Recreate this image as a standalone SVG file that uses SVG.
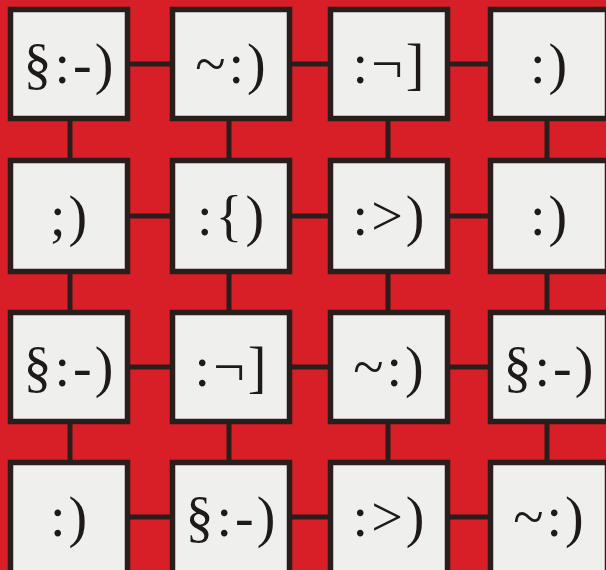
<svg xmlns="http://www.w3.org/2000/svg" width="606" height="570" viewBox="0 0 606 570">
<style>
.bg{fill:#d81f27}
.box{fill:#efefed;stroke:#2a1e1c;stroke-width:5.5}
.c{stroke:#2a1e1c;stroke-width:5;fill:none}
.t{font-family:"Liberation Serif","Times New Roman",serif;font-size:56px;fill:#1e1a18;text-anchor:middle;letter-spacing:3px}
</style>
<rect class="bg" x="0" y="0" width="606" height="570"/>
<g id="connectors">
<line class="c" x1="69" y1="64" x2="231" y2="64"/>
<line class="c" x1="231" y1="64" x2="389" y2="64"/>
<line class="c" x1="389" y1="64" x2="549" y2="64"/>
<line class="c" x1="69" y1="216" x2="231" y2="216"/>
<line class="c" x1="231" y1="216" x2="389" y2="216"/>
<line class="c" x1="389" y1="216" x2="549" y2="216"/>
<line class="c" x1="69" y1="367" x2="231" y2="367"/>
<line class="c" x1="231" y1="367" x2="389" y2="367"/>
<line class="c" x1="389" y1="367" x2="549" y2="367"/>
<line class="c" x1="69" y1="517" x2="231" y2="517"/>
<line class="c" x1="231" y1="517" x2="389" y2="517"/>
<line class="c" x1="389" y1="517" x2="549" y2="517"/>
<line class="c" x1="70" y1="64" x2="70" y2="216"/>
<line class="c" x1="70" y1="216" x2="70" y2="367"/>
<line class="c" x1="70" y1="367" x2="70" y2="517"/>
<line class="c" x1="229" y1="64" x2="229" y2="216"/>
<line class="c" x1="229" y1="216" x2="229" y2="367"/>
<line class="c" x1="229" y1="367" x2="229" y2="517"/>
<line class="c" x1="388" y1="64" x2="388" y2="216"/>
<line class="c" x1="388" y1="216" x2="388" y2="367"/>
<line class="c" x1="388" y1="367" x2="388" y2="517"/>
<line class="c" x1="547" y1="64" x2="547" y2="216"/>
<line class="c" x1="547" y1="216" x2="547" y2="367"/>
<line class="c" x1="547" y1="367" x2="547" y2="517"/>
</g>
<g id="n11"><rect class="box" x="10.5" y="9.5" width="117" height="109"/><text class="t" x="70" y="83">§:-)</text></g>
<g id="n12"><rect class="box" x="172.5" y="9.5" width="117" height="109"/><text class="t" x="232" y="83">~:)</text></g>
<g id="n13"><rect class="box" x="330.5" y="9.5" width="117" height="109"/><text class="t" x="390" y="83">:¬]</text></g>
<g id="n14"><rect class="box" x="490.5" y="9.5" width="117" height="109"/><text class="t" x="550" y="83">:)</text></g>
<g id="n21"><rect class="box" x="10.5" y="160.5" width="117" height="111"/><text class="t" x="70" y="235">;)</text></g>
<g id="n22"><rect class="box" x="172.5" y="160.5" width="117" height="111"/><text class="t" x="232" y="235">:{)</text></g>
<g id="n23"><rect class="box" x="330.5" y="160.5" width="117" height="111"/><text class="t" x="390" y="235">:&gt;)</text></g>
<g id="n24"><rect class="box" x="490.5" y="160.5" width="117" height="111"/><text class="t" x="550" y="235">:)</text></g>
<g id="n31"><rect class="box" x="10.5" y="312.5" width="117" height="109"/><text class="t" x="70" y="386">§:-)</text></g>
<g id="n32"><rect class="box" x="172.5" y="312.5" width="117" height="109"/><text class="t" x="232" y="386">:¬]</text></g>
<g id="n33"><rect class="box" x="330.5" y="312.5" width="117" height="109"/><text class="t" x="390" y="386">~:)</text></g>
<g id="n34"><rect class="box" x="490.5" y="312.5" width="117" height="109"/><text class="t" x="550" y="386">§:-)</text></g>
<g id="n41"><rect class="box" x="10.5" y="462.5" width="117" height="112"/><text class="t" x="70" y="536">:)</text></g>
<g id="n42"><rect class="box" x="172.5" y="462.5" width="117" height="112"/><text class="t" x="232" y="536">§:-)</text></g>
<g id="n43"><rect class="box" x="330.5" y="462.5" width="117" height="112"/><text class="t" x="390" y="536">:&gt;)</text></g>
<g id="n44"><rect class="box" x="490.5" y="462.5" width="117" height="112"/><text class="t" x="550" y="536">~:)</text></g>
</svg>
